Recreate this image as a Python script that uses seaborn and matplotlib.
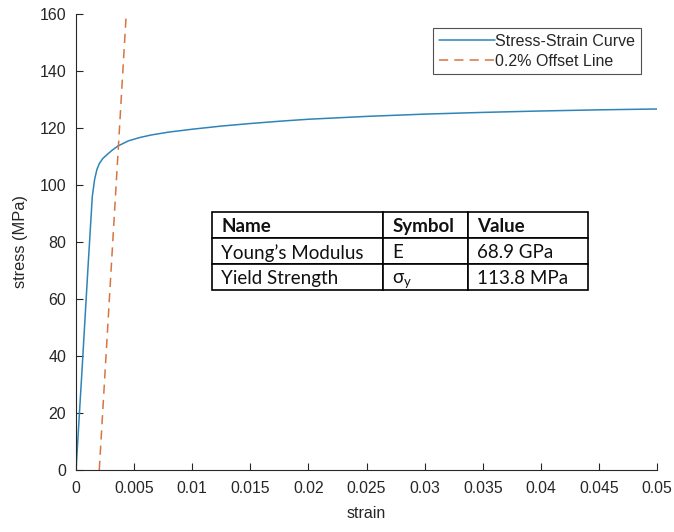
import numpy as np
import pandas as pd
import seaborn as sns
import matplotlib.pyplot as plt

# stress-strain curve
strain = [0, 0.0005, 0.001, 0.0014, 0.0016, 0.0018, 0.002, 0.0023, 0.0027, 0.0031,
          0.0036, 0.0045, 0.0055, 0.0065, 0.008, 0.010, 0.0125, 0.015, 0.0175, 0.02,
          0.025, 0.03, 0.035, 0.04, 0.045, 0.05]
stress = [0, 34, 69, 96, 102, 105.5, 107.5, 109.3, 110.8, 112.2,
          113.7, 115.5, 116.7, 117.6, 118.6, 119.6, 120.7, 121.6, 122.4, 123.1,
          124.1, 124.9, 125.5, 126.0, 126.4, 126.7]

# 0.2% offset line
offset_strain = [0.002, 0.00432]
offset_stress = [0, 160]

table_cols = ['Name', 'Symbol', 'Value']
table_rows = [['Young\u2019s Modulus', 'E', '68.9 GPa'],
              ['Yield Strength', r'$\mathregular{\sigma_y}$', '113.8 MPa']]
col_px = [171, 85, 120]

sns.set_style('white')
plt.rcParams['font.family'] = ['Liberation Sans', 'DejaVu Sans']
plt.rcParams['mathtext.fontset'] = 'custom'
plt.rcParams['mathtext.rm'] = 'Lato'
plt.rcParams['mathtext.it'] = 'Lato'

curve = pd.DataFrame({'strain': strain, 'stress': stress})
offset = pd.DataFrame({'strain': offset_strain, 'stress': offset_stress})

fig = plt.figure(figsize=(6.74, 5.32), dpi=100)
ax = fig.add_axes([0.1128, 0.1165, 0.862, 0.857])

sns.lineplot(x='strain', y='stress', data=curve, ax=ax, color='#2f84b8',
             lw=1.1, label='Stress-Strain Curve', sort=False)
sns.lineplot(x='strain', y='stress', data=offset, ax=ax, color='#d9743f',
             lw=1.1, linestyle=(0, (6, 4)), label='0.2% Offset Line', sort=False)

ax.set_xlim(0, 0.05)
ax.set_ylim(0, 160)
ax.set_xticks(np.arange(0, 0.0501, 0.005))
ax.set_xticklabels(['0', '0.005', '0.01', '0.015', '0.02', '0.025', '0.03',
                    '0.035', '0.04', '0.045', '0.05'])
ax.set_yticks(range(0, 161, 20))
ax.tick_params(direction='in', length=5, width=0.8, colors='#262626',
               left=True, bottom=True)
ax.tick_params(axis='x', labelsize=11.3, pad=8)
ax.tick_params(axis='y', labelsize=11.5, pad=7)
ax.set_xlabel('strain', fontsize=11.5, color='#262626', labelpad=7)
ax.set_ylabel('stress (MPa)', fontsize=11.8, color='#262626', labelpad=8)
for s in ['top', 'right']:
    ax.spines[s].set_visible(False)
for s in ['left', 'bottom']:
    ax.spines[s].set_color('#262626')
    ax.spines[s].set_linewidth(0.8)

leg = ax.legend(loc='upper right', bbox_to_anchor=(0.9725, 0.969), borderaxespad=0,
                fontsize=11.5, handlelength=3.5, frameon=True, fancybox=False,
                handletextpad=0.05, borderpad=0.35, labelspacing=0.3)
leg.get_frame().set_edgecolor('#262626')
leg.get_frame().set_linewidth(0.8)

tab = ax.table(cellText=table_rows, colLabels=table_cols, cellLoc='left',
               colLoc='left', colWidths=col_px, bbox=[0.234, 0.3947, 0.647, 0.171])
tab.auto_set_font_size(False)
for (r, c), cell in tab.get_celld().items():
    cell.set_linewidth(1.2)
    cell.set_edgecolor('black')
    cell.PAD = 9.5 / col_px[c]
    t = cell.get_text()
    t.set_fontfamily(['Lato', 'DejaVu Sans'])
    t.set_fontsize(13.5)
    t.set_va('center_baseline')
    t.set_color('#111111')
    if r == 0:
        t.set_fontweight('bold')

fig.savefig('out.png', dpi=100)
